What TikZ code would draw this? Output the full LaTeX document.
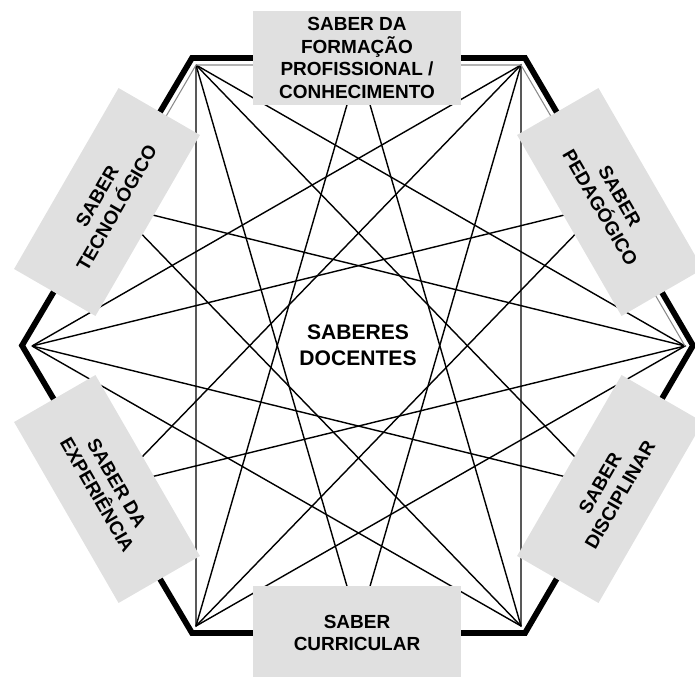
\documentclass[tikz,border=0pt]{standalone}
\usepackage{fontspec}
\setmainfont{Liberation Sans}
\usepackage{xcolor}
\usepackage{tikz}
\usetikzlibrary{positioning}
\definecolor{boxgray}{HTML}{E0E0E0}
\definecolor{rimgray}{HTML}{8A8A8A}
\definecolor{ink}{HTML}{000000}

\begin{document}
\begin{tikzpicture}[
  x=0.02cm, y=-0.02cm,
  every node/.style={color=ink},
  link/.style={line width=0.8pt, color=ink},
  hexrim/.style={line width=3.3pt, color=ink, line join=miter},
  innerrim/.style={line width=0.6pt, color=rimgray},
  sbox/.style={
    rectangle, fill=boxgray, draw=none, inner sep=0pt,
    minimum width=4.18cm, minimum height=1.88cm,
    align=center, font=\bfseries\fontsize{10.8}{13}\selectfont
  },
  core/.style={align=center, font=\bfseries\fontsize{12}{15}\selectfont}
]
\useasboundingbox (0,0) rectangle (695,676);

% corners where the links meet
\coordinate (vTL) at (196,65);
\coordinate (vTR) at (521,65);
\coordinate (vR)  at (685,346);
\coordinate (vBR) at (521,626);
\coordinate (vBL) at (196,626);
\coordinate (vL)  at (32,346);

% middle of each side (hidden under the boxes)
\coordinate (mT)  at (358.5,65);
\coordinate (mUR) at (603,205.5);
\coordinate (mLR) at (603,486);
\coordinate (mB)  at (358.5,626);
\coordinate (mLL) at (114,486);
\coordinate (mUL) at (114,205.5);

% two triangles
\draw[link] (vL) -- (vTR) -- (vBR) -- (vL);
\draw[link] (vTL) -- (vR) -- (vBL) -- (vTL);

% side middles to the far corners
\draw[link] (mT) -- (vBL);   \draw[link] (mT) -- (vBR);
\draw[link] (mB) -- (vTL);   \draw[link] (mB) -- (vTR);
\draw[link] (mUL) -- (vR);   \draw[link] (mUL) -- (vBR);
\draw[link] (mLR) -- (vL);   \draw[link] (mLR) -- (vTL);
\draw[link] (mUR) -- (vL);   \draw[link] (mUR) -- (vBL);
\draw[link] (mLL) -- (vTR);  \draw[link] (mLL) -- (vR);

% hexagon rim
\draw[innerrim] (mUL) -- (vTL) -- (vTR) -- (vR);
\draw[hexrim] (192,58) -- (525,58) -- (693,345.5) -- (525,633)
  -- (192,633) -- (22,345.5) -- cycle;

% boxes
\node[sbox] (formacao) at (357,58) {SABER DA\\FORMAÇÃO\\PROFISSIONAL /\\CONHECIMENTO};
\node[sbox, rotate=-60] (pedagogico) at (610,202) {SABER\\PEDAGÓGICO};
\node[sbox, rotate=60] (disciplinar) at (610,489) {SABER\\DISCIPLINAR};
\node[sbox] (curricular) at (357,633) {SABER\\CURRICULAR};
\node[sbox, rotate=-60] (experiencia) at (107,489) {SABER DA\\EXPERIÊNCIA};
\node[sbox, rotate=60] (tecnologico) at (107,202) {SABER\\TECNOLÓGICO};

% centre
\node[core] (docentes) at (358,345) {SABERES\\DOCENTES};
\end{tikzpicture}
\end{document}
